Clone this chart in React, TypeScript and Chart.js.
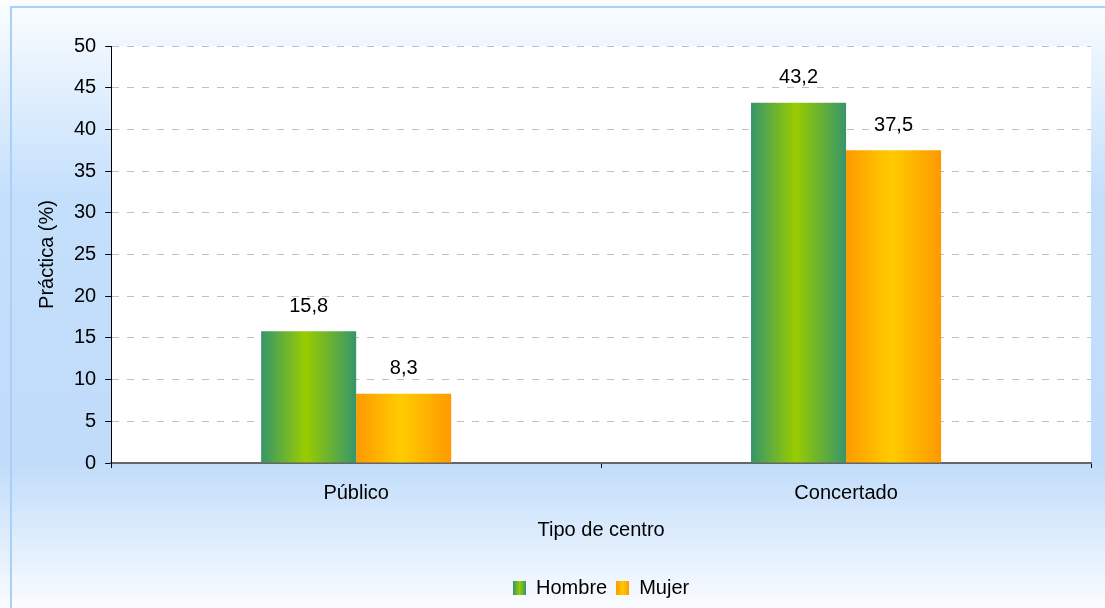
import React, { useEffect, useRef } from "react";
import { Chart, registerables } from "chart.js";

Chart.register(...registerables);

const categories = ["Público", "Concertado"];
const seriesNames = ["Hombre", "Mujer"];
const hombreValues = [15.8, 43.2];
const mujerValues = [8.3, 37.5];
const yTicks = [0, 5, 10, 15, 20, 25, 30, 35, 40, 45, 50];

const CAT_PCT = 0.388;
const FONT = "'Liberation Sans', Arial, sans-serif";
const FS = 20;
const GREEN = { edge: "#36966a", mid: "#99cc00" };
const ORANGE = { edge: "#ff9900", mid: "#ffcc00" };

function barGradient(cols: { edge: string; mid: string }) {
  return (ctx: any) => {
    const chart = ctx.chart;
    const area = chart.chartArea;
    if (!area || ctx.type !== "data" || !chart.scales.x) return cols.edge;
    const xs = chart.scales.x;
    const center = xs.getPixelForValue(ctx.dataIndex);
    const cat = (xs.right - xs.left) / categories.length;
    const bw = (cat * CAT_PCT) / 2;
    const left = ctx.datasetIndex === 0 ? center - bw : center;
    const g = chart.ctx.createLinearGradient(left, 0, left + bw, 0);
    g.addColorStop(0, cols.edge);
    g.addColorStop(0.47, cols.mid);
    g.addColorStop(1, cols.edge);
    return g;
  };
}

function legendSwatch(cols: { edge: string; mid: string }) {
  const c = document.createElement("canvas");
  c.width = 13;
  c.height = 14;
  const x = c.getContext("2d")!;
  const g = x.createLinearGradient(0, 0, 13, 0);
  g.addColorStop(0, cols.edge);
  g.addColorStop(0.5, cols.mid);
  g.addColorStop(1, cols.edge);
  x.fillStyle = g;
  x.fillRect(0, 0, 13, 14);
  return c;
}

const backgroundPlugin = {
  id: "bgFrame",
  beforeDraw(chart: any) {
    const { ctx, chartArea, width, height } = chart;
    ctx.save();
    const g = ctx.createLinearGradient(0, 0, 0, height);
    g.addColorStop(0, "#fbfdff");
    g.addColorStop(0.32, "#c4dffc");
    g.addColorStop(0.76, "#c0dcfa");
    g.addColorStop(1, "#fafcff");
    ctx.fillStyle = g;
    ctx.fillRect(0, 0, width, height);
    ctx.strokeStyle = "#a8d0f8";
    ctx.lineWidth = 2;
    ctx.beginPath();
    ctx.moveTo(11, height);
    ctx.lineTo(11, 7);
    ctx.lineTo(width, 7);
    ctx.stroke();
    ctx.fillStyle = "#ffffff";
    ctx.fillRect(
      chartArea.left,
      chartArea.top,
      chartArea.right - chartArea.left,
      chartArea.bottom - chartArea.top
    );
    ctx.restore();
  },
};

const valueLabelPlugin = {
  id: "valueLabels",
  afterDatasetsDraw(chart: any) {
    const { ctx } = chart;
    ctx.save();
    ctx.font = `${FS}px ${FONT}`;
    ctx.fillStyle = "#000";
    ctx.textAlign = "center";
    ctx.textBaseline = "middle";
    chart.data.datasets.forEach((ds: any, di: number) => {
      const meta = chart.getDatasetMeta(di);
      meta.data.forEach((el: any, i: number) => {
        const v = ds.data[i] as number;
        ctx.fillText(v.toFixed(1).replace(".", ","), el.x, el.y - 25);
      });
    });
    ctx.restore();
  },
};

export default function App() {
  const ref = useRef<HTMLCanvasElement>(null);
  useEffect(() => {
    if (!ref.current) return;
    Chart.defaults.color = "#000";
    const swatches = [legendSwatch(GREEN), legendSwatch(ORANGE)];
    const chart = new Chart(ref.current, {
      type: "bar",
      data: {
        labels: categories,
        datasets: [
          {
            label: seriesNames[0],
            data: hombreValues,
            backgroundColor: barGradient(GREEN),
            barPercentage: 1,
            categoryPercentage: CAT_PCT,
          },
          {
            label: seriesNames[1],
            data: mujerValues,
            backgroundColor: barGradient(ORANGE),
            barPercentage: 1,
            categoryPercentage: CAT_PCT,
          },
        ],
      },
      options: {
        animation: false,
        responsive: false,
        layout: { padding: { left: 35, right: 14, top: 46, bottom: 0 } },
        font: { family: FONT, size: FS },
        scales: {
          x: {
            grid: {
              display: true,
              drawOnChartArea: false,
              drawTicks: true,
              tickLength: 5,
              tickColor: "#000",
            },
            border: { display: true, color: "#666", width: 2 },
            ticks: { font: { family: FONT, size: FS }, color: "#000", padding: 13 },
            title: {
              display: true,
              text: "Tipo de centro",
              font: { family: FONT, size: FS },
              color: "#000",
              padding: { top: 0, bottom: 27 },
            },
          },
          y: {
            min: 0,
            max: 50,
            afterBuildTicks: (axis: any) => {
              axis.ticks = yTicks.map((v) => ({ value: v }));
            },
            grid: {
              color: "#c0c0c0",
              tickColor: "#000",
              tickLength: 6,
              lineWidth: 1,
            },
            border: { display: true, color: "#000", width: 1, dash: [7, 8] },
            ticks: { font: { family: FONT, size: FS }, color: "#000", padding: 9 },
            title: {
              display: true,
              text: "Práctica (%)",
              font: { family: FONT, size: FS },
              color: "#000",
              padding: { top: 0, bottom: 6 },
            },
          },
        },
        plugins: {
          legend: {
            position: "bottom",
            fullSize: false,
            labels: {
              usePointStyle: true,
              pointStyleWidth: 13,
              font: { family: FONT, size: FS },
              color: "#000",
              padding: 9,
              generateLabels: () =>
                seriesNames.map((n, i) => ({
                  text: n,
                  pointStyle: swatches[i],
                  fillStyle: i === 0 ? GREEN.mid : ORANGE.mid,
                  strokeStyle: "transparent",
                  lineWidth: 0,
                  hidden: false,
                  datasetIndex: i,
                  fontColor: "#000",
                })),
            },
          },
          tooltip: { enabled: false },
        },
      },
      plugins: [backgroundPlugin, valueLabelPlugin],
    } as any);
    return () => chart.destroy();
  }, []);
  return (
    <div style={{ position: "fixed", left: 0, top: 0, width: 1105, height: 608 }}>
      <canvas ref={ref} width={1105} height={608} style={{ display: "block" }} />
    </div>
  );
}
